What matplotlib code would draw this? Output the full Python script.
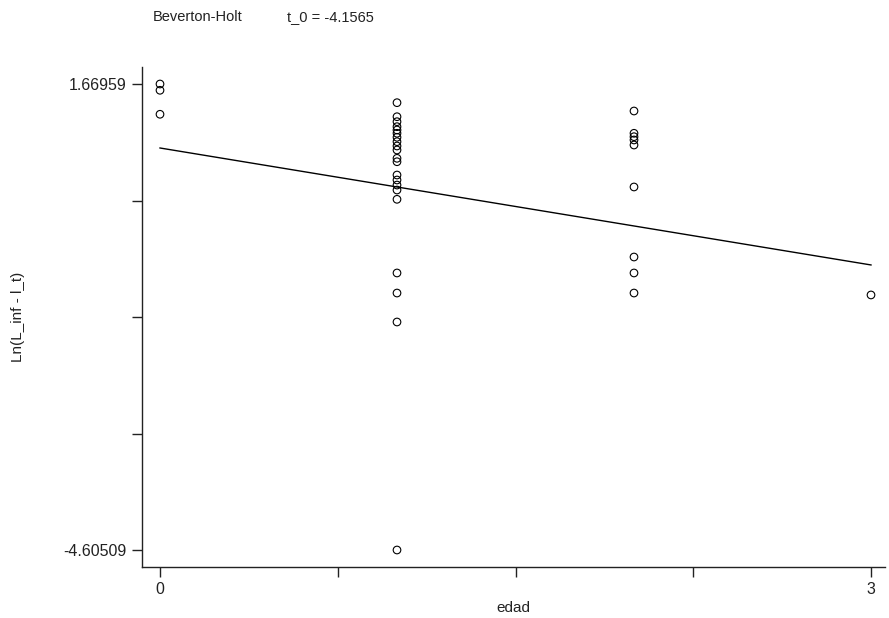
import matplotlib
matplotlib.use("Agg")
import matplotlib.pyplot as plt

# Observed ages and log-transformed length differences
edad_0 = [0, 0, 0]
y_0 = [1.66959, 1.585, 1.262]

edad_1 = [1] * 21
y_1 = [1.418, 1.229, 1.162, 1.095, 1.050, 1.006, 0.952, 0.893, 0.835, 0.781,
       0.669, 0.623, 0.444, 0.377, 0.309, 0.242, 0.117, -0.875, -1.145, -1.535,
       -4.60509]

edad_2 = [2] * 9
y_2 = [1.306, 1.006, 0.960, 0.916, 0.848, 0.283, -0.660, -0.875, -1.145]

edad_3 = [3]
y_3 = [-1.171]

# Fitted regression line (endpoints at edad = 0 and edad = 3)
fit_x = [0, 3]
fit_y = [0.808, -0.767]

# Axis ticks: end values labelled, intermediate ticks unlabelled
y_min, y_max = -4.60509, 1.66959
x_ticks = [0, 0.75, 1.5, 2.25, 3]
x_ticklabels = ["0", "", "", "", "3"]

title_left = "Beverton-Holt"
title_right = "t_0 = -4.1565"

plt.rcParams["font.family"] = ["Liberation Sans", "DejaVu Sans"]

fig = plt.figure(figsize=(8.89, 6.18), dpi=100)
ax = fig.add_axes([142 / 889, 1 - 567 / 618, (885 - 142) / 889, (567 - 67) / 618])

xs = edad_0 + edad_1 + edad_2 + edad_3
ys = y_0 + y_1 + y_2 + y_3
ax.scatter(xs, ys, s=30, facecolors="none", edgecolors="black", linewidths=0.8, zorder=3)
ax.plot(fit_x, fit_y, color="black", linewidth=1.0)

step = (y_max - y_min) / 4
y_ticks = [y_min + i * step for i in range(5)]
ax.set_yticks(y_ticks)
ax.set_yticklabels([f"{y_min:.5f}", "", "", "", f"{y_max:.5f}"])
ax.set_xticks(x_ticks)
ax.set_xticklabels(x_ticklabels)

px_y = (y_max - y_min) / (550 - 84)
ax.set_ylim(y_min - 17 * px_y, y_max + 17 * px_y)
px_x = 3 / (871 - 160)
ax.set_xlim(-18 * px_x, 3 + 14 * px_x)

for side in ("top", "right"):
    ax.spines[side].set_visible(False)
for side in ("left", "bottom"):
    ax.spines[side].set_color("#222222")
    ax.spines[side].set_linewidth(1.0)

ax.tick_params(axis="both", direction="out", length=7, width=1.0, color="#222222",
               labelsize=11.5, labelcolor="#222222", pad=4)

ax.set_xlabel("edad", fontsize=11, color="#222222", labelpad=3)
ax.set_ylabel("Ln(L_inf - l_t)", fontsize=11, color="#222222")
ax.yaxis.set_label_coords(-0.157, 0.5)

fig.text(153 / 889, 1 - 17 / 618, title_left, fontsize=10.5, color="#222222", va="center", ha="left")
fig.text(287 / 889, 1 - 17 / 618, title_right, fontsize=10.5, color="#222222", va="center", ha="left")

fig.savefig("out.png", dpi=100)
